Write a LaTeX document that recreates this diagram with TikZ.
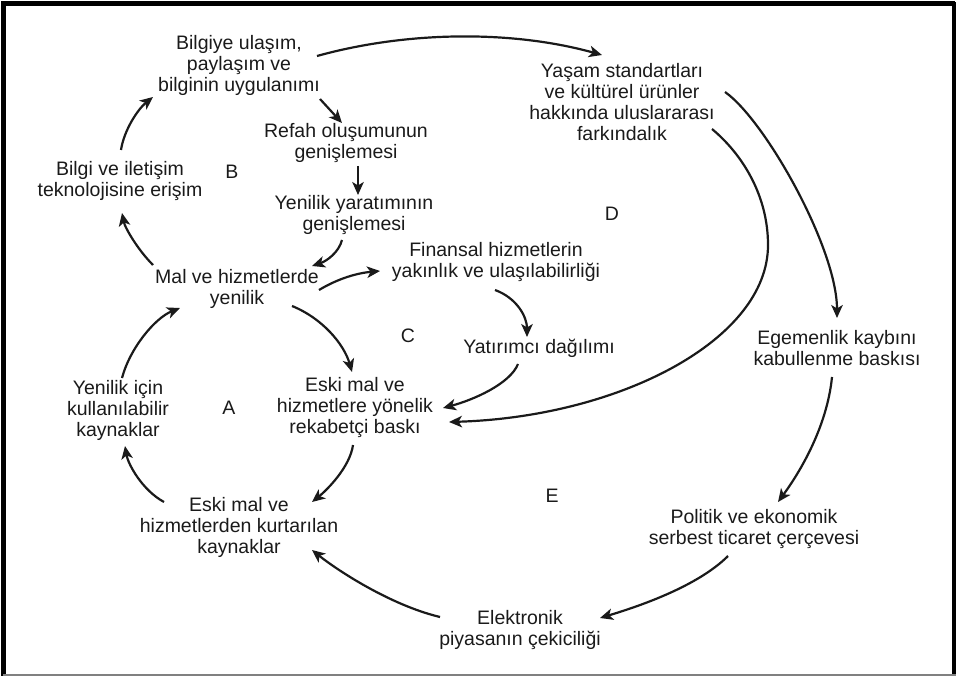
\documentclass[tikz,border=0pt]{standalone}
\usepackage{fontspec}
\setmainfont{Liberation Sans}
\usetikzlibrary{arrows.meta}
\definecolor{ink}{HTML}{1A1A1A}
\begin{document}
\begin{tikzpicture}[x=1pt,y=-1pt,
  lbl/.style={inner sep=0pt,align=center,text=ink,font=\fontsize{19.5}{21}\selectfont},
  conn/.style={line width=2.2pt,draw=ink,-{Stealth[length=13pt,width=11.5pt,inset=3.5pt]}}]
\useasboundingbox (0,0) rectangle (958,676);
% frame
\draw[line width=5pt,black] (955,4) -- (3,4) -- (3,676);
\draw[line width=4pt,black] (954,2) -- (954,674);
\draw[line width=1.5pt,gray] (3,675) -- (956,675);
% nodes
\node[lbl] (bil) at (239,66) {\strut Bilgiye ulaşım,\\\strut paylaşım ve\\\strut bilginin uygulanımı};
\node[lbl] (ref) at (346,144) {\strut Refah oluşumunun\\\strut genişlemesi};
\node[lbl] (bit) at (120,182) {\strut Bilgi ve iletişim\\\strut teknolojisine erişim};
\node[lbl] (yen) at (354,216) {\strut Yenilik yaratımının\\\strut genişlemesi};
\node[lbl] (mal) at (237,290) {\strut Mal ve hizmetlerde\\\strut yenilik};
\node[lbl] (fin) at (496,263) {\strut Finansal hizmetlerin\\\strut yakınlık ve ulaşılabilirliği};
\node[lbl] (yat) at (539,349) {\strut Yatırımcı dağılımı};
\node[lbl] (rek) at (355,408) {\strut Eski mal ve\\\strut hizmetlere yönelik\\\strut rekabetçi baskı};
\node[lbl] (kay) at (118,411) {\strut Yenilik için\\\strut kullanılabilir\\\strut kaynaklar};
\node[lbl] (kur) at (239,528) {\strut Eski mal ve\\\strut hizmetlerden kurtarılan\\\strut kaynaklar};
\node[lbl] (yas) at (622,105) {\strut Yaşam standartları\\\strut ve kültürel ürünler\\\strut hakkında uluslararası\\\strut farkındalık};
\node[lbl] (ege) at (837,351) {\strut Egemenlik kaybını\\\strut kabullenme baskısı};
\node[lbl] (pol) at (754,530) {\strut Politik ve ekonomik\\\strut serbest ticaret çerçevesi};
\node[lbl] (ele) at (520,631) {\strut Elektronik\\\strut piyasanın çekiciliği};
% region labels
\node[lbl] (la) at (229,410) {\strut A};
\node[lbl] (lb) at (232,174) {\strut B};
\node[lbl] (lc) at (408,338) {\strut C};
\node[lbl] (ld) at (612,216) {\strut D};
\node[lbl] (le) at (552,498) {\strut E};
% connectors
\draw[conn] ([shift={(78,-10)}]bil.center) .. controls +(90,-25) and +(-90,-25) .. ([shift={(-20,-50)}]yas.center);
\draw[conn] ([shift={(81,33)}]bil.center) -- ([shift={(-4,-21)}]ref.center);
\draw[conn] ([shift={(12,22)}]ref.center) -- ([shift={(4,-21)}]yen.center);
\draw[conn] ([shift={(-12,24)}]yen.center) .. controls +(-3,12) and +(15,-5) .. ([shift={(75,-24)}]mal.center);
\draw[conn] ([shift={(-84,-25)}]mal.center) .. controls +(-15,-15) and +(3,15) .. ([shift={(2,31)}]bit.center);
\draw[conn] ([shift={(1,-32)}]bit.center) .. controls +(3,-20) and +(-15,12) .. ([shift={(-86,31)}]bil.center);
\draw[conn] ([shift={(82,0)}]mal.center) .. controls +(20,-12) and +(-22,2) .. ([shift={(-116,8)}]fin.center);
\draw[conn] ([shift={(-1,27)}]fin.center) .. controls +(22,8) and +(0,-20) .. ([shift={(-12,-12)}]yat.center);
\draw[conn] ([shift={(-21,15)}]yat.center) .. controls +(-8,20) and +(30,-8) .. ([shift={(88,0)}]rek.center);
\draw[conn] ([shift={(90,24)}]yas.center) .. controls +(30,25) and +(0,-50) .. (768,245)
  .. controls +(0,95) and +(170,-5) .. ([shift={(94,14)}]rek.center);
\draw[conn] ([shift={(103,-13)}]yas.center) .. controls +(40,28) and +(0,-70) .. ([shift={(0,-33)}]ege.center);
\draw[conn] ([shift={(-5,26)}]ege.center) .. controls +(-5,50) and +(22,-30) .. ([shift={(24,-28)}]pol.center);
\draw[conn] ([shift={(-26,26)}]pol.center) .. controls +(-30,30) and +(40,-12) .. ([shift={(80,-13)}]ele.center);
\draw[conn] ([shift={(-80,-14)}]ele.center) .. controls +(-50,-12) and +(25,20) .. ([shift={(73,22)}]kur.center);
\draw[conn] ([shift={(-2,37)}]rek.center) .. controls +(-3,22) and +(15,-12) .. ([shift={(73,-26)}]kur.center);
\draw[conn] ([shift={(-75,-26)}]kur.center) .. controls +(-22,-12) and +(3,18) .. ([shift={(7,35)}]kay.center);
\draw[conn] ([shift={(4,-33)}]kay.center) .. controls +(8,-30) and +(-25,10) .. ([shift={(-57,18)}]mal.center);
\draw[conn] ([shift={(55,16)}]mal.center) .. controls +(30,12) and +(-8,-28) .. ([shift={(-3,-36)}]rek.center);
\end{tikzpicture}
\end{document}
